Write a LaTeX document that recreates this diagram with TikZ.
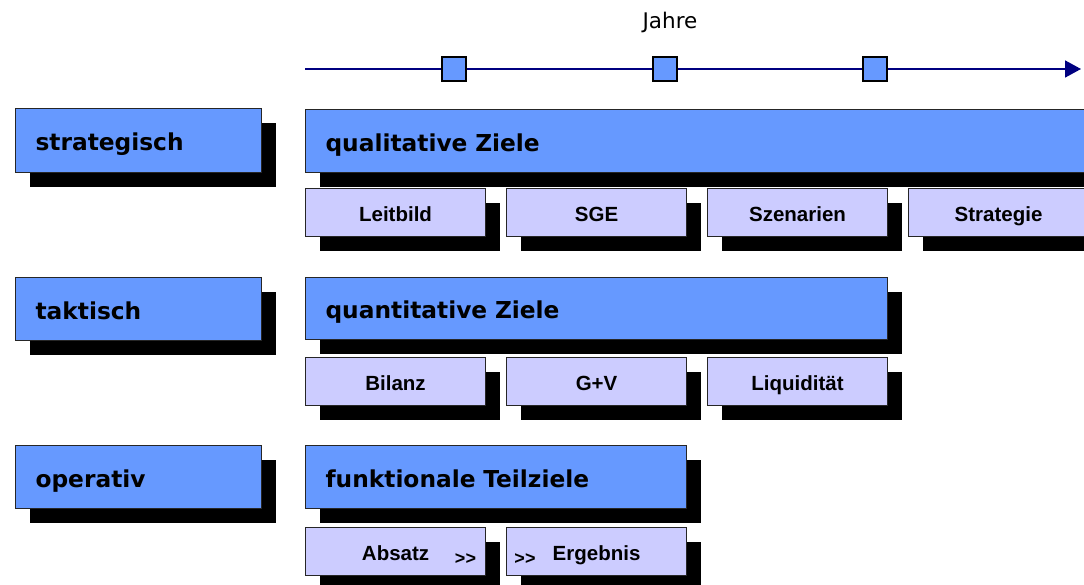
\documentclass[tikz,border=0pt]{standalone}
\usepackage{fontspec}
\setmainfont{DejaVu Sans}
\newfontfamily\arialb{Liberation Sans}
\usetikzlibrary{shadows,arrows.meta}
\definecolor{boxblue}{RGB}{102,153,255}
\definecolor{lav}{RGB}{204,204,255}
\definecolor{navy}{RGB}{0,0,128}
\tikzset{
  shad/.style={general shadow={shadow xshift=14pt, shadow yshift=-14pt, fill=black, opacity=1}},
  bigbox/.style={shad, rectangle, draw=black!85, line width=1.1pt, fill=boxblue, anchor=north west,
    inner xsep=20pt, inner ysep=0pt, align=left, text height=20pt, text depth=0pt,
    font=\bfseries\fontsize{23.3}{26}\selectfont},
  smallbox/.style={shad, rectangle, draw=black!85, line width=1.1pt, fill=lav, anchor=north west,
    inner sep=0pt, minimum width=180pt, minimum height=48pt, text height=17.5pt, text depth=0.5pt,
    font=\arialb\bfseries\fontsize{20.5}{23}\selectfont},
  tick/.style={rectangle, draw=black, line width=1.3pt, fill=boxblue, minimum size=24pt, inner sep=0pt},
  arr/.style={font=\arialb\bfseries\fontsize{18}{20}\selectfont, inner sep=0pt}
}
\begin{document}
\begin{tikzpicture}[x=1pt,y=-1pt]
\useasboundingbox (0,0) rectangle (1084,584);
\clip (0,0) rectangle (1084,584);
% axis
\node[font=\fontsize{21.5}{24}\selectfont, inner sep=0pt] (jahre) at (670,22) {Jahre};
\coordinate (axs) at (305,69);
\coordinate (axe) at (1081,69);
\draw[navy, line width=1.6pt, -{Triangle[length=16pt,width=17pt]}] (axs) -- (axe);
\node[tick] (t1) at (454,69) {};
\node[tick] (t2) at (665,69) {};
\node[tick] (t3) at (875,69) {};
% left labels
\node[bigbox, minimum height=64pt, text width=206pt] (l1) at (15,108) {strategisch};
\node[bigbox, minimum height=63pt, text width=206pt] (l2) at (15,277) {taktisch};
\node[bigbox, minimum height=63pt, text width=206pt] (l3) at (15,445) {operativ};
% wide boxes
\node[bigbox, minimum height=63pt, text width=760pt] (w1) at (305,109) {qualitative Ziele};
\node[bigbox, minimum height=62pt, text width=542pt] (w2) at (305,277) {quantitative Ziele};
\node[bigbox, minimum height=63pt, text width=341pt] (w3) at (305,445) {funktionale Teilziele};
% small boxes
\node[smallbox] (s11) at (305,188) {Leitbild};
\node[smallbox] (s12) at (506,188) {SGE};
\node[smallbox] (s13) at (707,188) {Szenarien};
\node[smallbox] (s14) at (908,188) {Strategie};
\node[smallbox] (s21) at (305,357) {Bilanz};
\node[smallbox] (s22) at (506,357) {G+V};
\node[smallbox] (s23) at (707,357) {Liquidität};
\node[smallbox] (s31) at (305,527) {Absatz};
\node[smallbox] (s32) at (506,527) {Ergebnis};
\node[arr] (a1) at (465.5,559) {>>};
\node[arr] (a2) at (525,559) {>>};
\end{tikzpicture}
\end{document}
